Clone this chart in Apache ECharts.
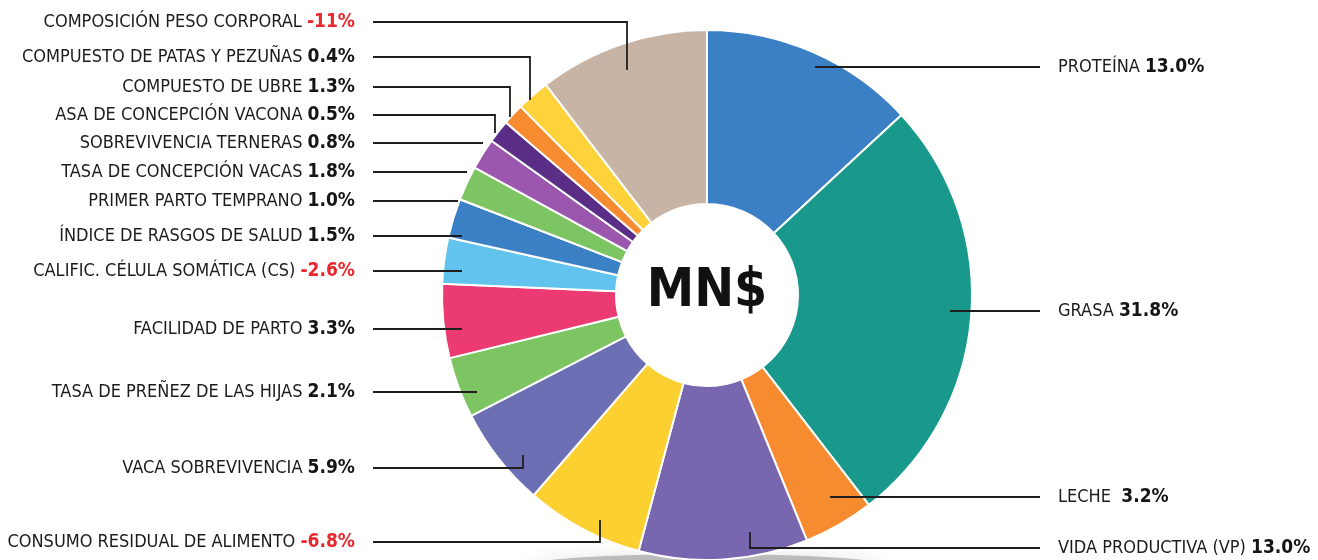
<!DOCTYPE html>
<html style="height: 100%">
<head>
<meta charset="utf-8">
<script src="https://cdn.jsdelivr.net/npm/echarts@6/dist/echarts.min.js"></script>
</head>
<body style="height: 100%; margin: 0; background: #fff">
<div id="container" style="width: 1318px; height: 560px"></div>
<script type="text/javascript">
// MN$ index weights, clockwise from 12 o'clock
var names = [
    'PROTEÍNA', 'GRASA', 'LECHE', 'VIDA PRODUCTIVA (VP)', 'CONSUMO RESIDUAL DE ALIMENTO',
    'VACA SOBREVIVENCIA', 'TASA DE PREÑEZ DE LAS HIJAS', 'FACILIDAD DE PARTO',
    'CALIFIC. CÉLULA SOMÁTICA (CS)', 'ÍNDICE DE RASGOS DE SALUD', 'PRIMER PARTO TEMPRANO',
    'TASA DE CONCEPCIÓN VACAS', 'SOBREVIVENCIA TERNERAS', 'ASA DE CONCEPCIÓN VACONA',
    'COMPUESTO DE UBRE', 'COMPUESTO DE PATAS Y PEZUÑAS', 'COMPOSICIÓN PESO CORPORAL'
];
// weights as printed in the labels
var weights = [13.0, 31.8, 3.2, 13.0, -6.8, 5.9, 2.1, 3.3, -2.6, 1.5, 1.0, 1.8, 0.8, 0.5, 1.3, 0.4, -11];
var weightText = ['13.0%', '31.8%', '3.2%', '13.0%', '-6.8%', '5.9%', '2.1%', '3.3%', '-2.6%',
    '1.5%', '1.0%', '1.8%', '0.8%', '0.5%', '1.3%', '0.4%', '-11%'];
// share of the ring each slice actually takes in the drawing
var sliceShare = [13.1, 26.4, 4.3, 10.3, 7.2, 6.1, 3.7, 4.5, 2.8, 2.4, 0, 2.1, 1.9, 1.4, 1.3, 2.0, 10.4];
var colors = ['#3b7fc5', '#18998b', '#f68b2f', '#7866ae', '#fdd032', '#6d6fb5', '#7dc463',
    '#eb3b72', '#62c3ee', '#3b7fc5', '#3b7fc5', '#7dc463', '#9b57ad', '#5a2d87',
    '#f68b2f', '#fdd23a', '#c8b4a4'];

// label placement: side, label y, leader end (elbow x, anchor y)
var labelPos = [
    ['r', 67, 815, 67], ['r', 311, 950, 311], ['r', 497, 830, 497], ['r', 548, 750, 532],
    ['l', 542, 600, 520], ['l', 468, 523, 455], ['l', 392, 477, 392], ['l', 329, 462, 329],
    ['l', 271, 462, 271], ['l', 236, 462, 236], ['l', 201, 458, 201], ['l', 172, 467, 172],
    ['l', 143, 483, 143], ['l', 115, 495, 133], ['l', 87, 510, 117], ['l', 57, 530, 100],
    ['l', 22, 627, 70]
];

var FONT = '"Liberation Sans Narrow", "DejaVu Sans Condensed", sans-serif';
var CX = 707, CY = 295;

var dom = document.getElementById('container');
var myChart = echarts.init(dom);

var pieData = [];
for (var i = 0; i < names.length; i++) {
    pieData.push({
        name: names[i],
        value: sliceShare[i],
        itemStyle: {color: colors[i]}
    });
}

var graphics = [
    {
        type: 'ellipse',
        z: 0,
        shape: {cx: CX, cy: 566, rx: 180, ry: 12},
        style: {fill: 'rgba(0,0,0,0.22)', shadowBlur: 18, shadowColor: 'rgba(0,0,0,0.45)'}
    },
    {
        type: 'text',
        z: 100,
        x: CX,
        y: CY - 3,
        style: {
            text: 'MN$',
            align: 'center',
            verticalAlign: 'middle',
            fontFamily: FONT,
            fontWeight: 'bold',
            fontSize: 53,
            fill: '#111'
        }
    }
];

// leader lines, drawn above the slices
labelPos.forEach(function (L) {
    var lineStart = L[0] === 'l' ? 373 : 1040;
    graphics.push({
        type: 'polyline',
        z: 100,
        shape: {points: [[lineStart, L[1]], [L[2], L[1]], [L[2], L[3]]]},
        style: {stroke: '#1e1e1e', lineWidth: 1.8, fill: null}
    });
});

var option = {
    animation: false,
    backgroundColor: '#fff',
    graphic: graphics,
    series: [
        {
            type: 'pie',
            center: [CX, CY],
            radius: [91, 265],
            startAngle: 90,
            clockwise: true,
            avoidLabelOverlap: false,
            itemStyle: {borderColor: '#fff', borderWidth: 2},
            label: {
                show: true,
                position: 'outside',
                fontFamily: FONT,
                fontSize: 18,
                color: '#1c1c1c',
                formatter: function (p) {
                    var i = p.dataIndex;
                    var gap = names[i] === 'LECHE' ? '  ' : ' ';
                    var st = weights[i] < 0 ? 'neg' : 'pos';
                    return '{n|' + names[i] + '}' + gap + '{' + st + '|' + weightText[i] + '}';
                },
                rich: {
                    n: {fontFamily: FONT, fontSize: 18, color: '#1c1c1c'},
                    pos: {fontFamily: FONT, fontSize: 19, fontWeight: 'bold', color: '#151515'},
                    neg: {fontFamily: FONT, fontSize: 19, fontWeight: 'bold', color: '#e8262b'}
                }
            },
            labelLine: {show: false},
            labelLayout: function (params) {
                var L = labelPos[params.dataIndex];
                var left = L[0] === 'l';
                return {
                    x: left ? 355 : 1058,
                    y: L[1],
                    align: left ? 'right' : 'left',
                    verticalAlign: 'middle'
                };
            },
            data: pieData
        }
    ]
};

myChart.setOption(option, true);
</script>
</body>
</html>
